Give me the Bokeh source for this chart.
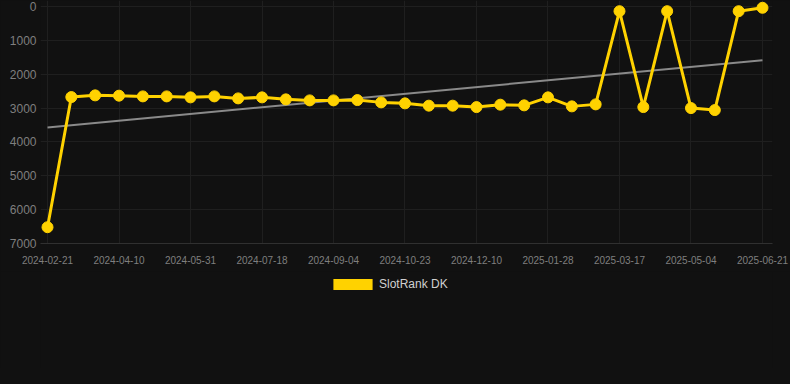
import numpy as np
from bokeh.plotting import figure
from bokeh.layouts import column
from bokeh.models import Range1d, FixedTicker, Legend, LegendItem, ColumnDataSource
from bokeh.embed import file_html
from bokeh.resources import INLINE

# ---- data ----
series_name = "SlotRank DK"
tick_labels = ["2024-02-21", "2024-04-10", "2024-05-31", "2024-07-18", "2024-09-04",
               "2024-10-23", "2024-12-10", "2025-01-28", "2025-03-17", "2025-05-04",
               "2025-06-21"]
ranks = [6519, 2675, 2625, 2634, 2655, 2655, 2684, 2655, 2714, 2684,
         2743, 2773, 2773, 2764, 2832, 2861, 2929, 2929, 2971, 2900,
         2920, 2684, 2950, 2891, 139, 2971, 139, 3000, 3059, 139, 38]
y_ticks = [0, 1000, 2000, 3000, 4000, 5000, 6000, 7000]

idx = list(range(len(ranks)))
tick_step = (len(ranks) - 1) // (len(tick_labels) - 1)
tick_idx = idx[::tick_step]

# linear trend computed from the series
slope, intercept = np.polyfit(idx, ranks, 1)
trend_x = [idx[0], idx[-1]]
trend_y = [slope * x + intercept for x in trend_x]

GOLD = "#FFD200"
BG = "#111111"
FONT = "Liberation Sans"

p = figure(width=790, height=271, output_backend="svg", toolbar_location=None,
           x_range=Range1d(-0.294, 30.42), y_range=Range1d(7000, -177),
           background_fill_color=BG, border_fill_color=BG,
           min_border_left=40, min_border_right=18, min_border_top=0,
           min_border_bottom=28)
p.outline_line_color = None

# grids
p.xgrid.ticker = FixedTicker(ticks=tick_idx)
p.ygrid.ticker = FixedTicker(ticks=y_ticks)
p.xgrid.grid_line_color = "#1f1f1f"
p.ygrid.grid_line_color = "#1f1f1f"

# axes
p.xaxis.ticker = FixedTicker(ticks=tick_idx)
p.xaxis.major_label_overrides = {i: lab for i, lab in zip(tick_idx, tick_labels)}
p.yaxis.ticker = FixedTicker(ticks=y_ticks)
for ax in (p.xaxis[0], p.yaxis[0]):
    ax.major_tick_in = 0
    ax.major_tick_out = 0
    ax.minor_tick_in = 0
    ax.minor_tick_out = 0
    ax.major_label_text_font = FONT
    ax.major_label_text_color = "#7f7f7f"
p.xaxis.major_label_text_font_size = "10px"
p.yaxis.major_label_text_font_size = "12px"
p.xaxis.axis_line_color = "#303030"
p.yaxis.axis_line_color = None
p.xaxis.major_label_standoff = 12
p.yaxis.major_label_standoff = 4

# trend line
p.line(trend_x, trend_y, line_color="#8a8a8a", line_width=2)

# series
src = ColumnDataSource(dict(x=idx, y=ranks))
p.line("x", "y", source=src, line_color=GOLD, line_width=3)
p.scatter("x", "y", source=src, size=11, fill_color=GOLD, line_color=GOLD)

# legend strip below the chart
lg = figure(width=790, height=97, output_backend="svg", toolbar_location=None,
            x_range=Range1d(-0.294, 30.42), y_range=Range1d(7000, -177),
            background_fill_color=BG, border_fill_color=BG,
            min_border_left=0, min_border_right=0, min_border_top=0,
            min_border_bottom=0)
lg.outline_line_color = None
lg.axis.visible = False
lg.grid.visible = False
# swatch renderer: a zero-height area on the series (nothing visible drawn)
swatch = lg.varea(x="x", y1="y", y2="y", source=src, fill_color=GOLD)
legend = Legend(items=[LegendItem(label=series_name, renderers=[swatch])],
                orientation="horizontal", location=(283, 72),
                glyph_width=49, glyph_height=14, label_height=14,
                label_standoff=2, margin=0, padding=5,
                label_text_font=FONT, label_text_font_size="12px",
                label_text_color="#d0d0d0",
                background_fill_alpha=0, border_line_alpha=0)
lg.add_layout(legend)

layout = column(p, lg, spacing=0, styles={"background-color": BG})

TEMPLATE = """{% block css_resources %}{{ super() }}<style>html, body { background: #111111; }</style>{% endblock %}"""
open("out.html", "w").write(file_html(layout, INLINE, template=TEMPLATE))
